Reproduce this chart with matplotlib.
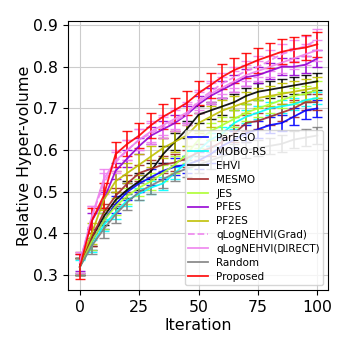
import numpy as np
import matplotlib
matplotlib.use('Agg')
import matplotlib.pyplot as plt

# iterations where the means / error bars were recorded
iters = np.arange(0, 101, 5)

methods = ['ParEGO', 'MOBO-RS', 'EHVI', 'MESMO', 'JES', 'PFES', 'PF2ES',
           'qLogNEHVI(Grad)', 'qLogNEHVI(DIRECT)', 'Random', 'Proposed']

parego = [0.32, 0.38, 0.43, 0.47, 0.50, 0.52, 0.535, 0.55, 0.56, 0.565, 0.575,
          0.59, 0.61, 0.625, 0.64, 0.65, 0.66, 0.665, 0.68, 0.695, 0.70]
mobors = [0.32, 0.37, 0.42, 0.45, 0.48, 0.495, 0.51, 0.52, 0.545, 0.57, 0.60,
          0.625, 0.64, 0.665, 0.68, 0.69, 0.70, 0.705, 0.71, 0.72, 0.725]
ehvi = [0.32, 0.39, 0.44, 0.48, 0.505, 0.525, 0.55, 0.59, 0.62, 0.65, 0.685,
        0.695, 0.705, 0.715, 0.73, 0.74, 0.745, 0.75, 0.755, 0.76, 0.765]
mesmo = [0.32, 0.39, 0.45, 0.49, 0.52, 0.545, 0.555, 0.565, 0.57, 0.58, 0.595,
         0.605, 0.62, 0.64, 0.665, 0.67, 0.68, 0.69, 0.70, 0.715, 0.715]
jes = [0.32, 0.38, 0.43, 0.465, 0.49, 0.51, 0.525, 0.545, 0.565, 0.59, 0.625,
       0.645, 0.66, 0.675, 0.69, 0.70, 0.71, 0.72, 0.73, 0.735, 0.745]
pfes = [0.33, 0.43, 0.48, 0.55, 0.58, 0.61, 0.635, 0.65, 0.665, 0.685, 0.71,
        0.73, 0.745, 0.76, 0.775, 0.78, 0.79, 0.80, 0.80, 0.805, 0.82]
pf2es = [0.33, 0.40, 0.48, 0.525, 0.545, 0.565, 0.585, 0.605, 0.62, 0.635, 0.665,
         0.68, 0.695, 0.705, 0.715, 0.725, 0.73, 0.735, 0.74, 0.745, 0.75]
qlog_grad = [0.33, 0.44, 0.52, 0.57, 0.60, 0.625, 0.64, 0.655, 0.67, 0.685, 0.72,
             0.74, 0.76, 0.775, 0.79, 0.80, 0.815, 0.83, 0.84, 0.85, 0.865]
qlog_direct = [0.33, 0.44, 0.53, 0.575, 0.60, 0.625, 0.645, 0.66, 0.675, 0.69, 0.715,
               0.735, 0.75, 0.765, 0.78, 0.79, 0.80, 0.81, 0.82, 0.83, 0.84]
rand = [0.32, 0.37, 0.41, 0.445, 0.475, 0.50, 0.515, 0.53, 0.545, 0.555, 0.565,
        0.575, 0.585, 0.595, 0.60, 0.605, 0.61, 0.615, 0.625, 0.63, 0.635]
proposed = [0.32, 0.43, 0.49, 0.59, 0.615, 0.635, 0.66, 0.68, 0.696, 0.713, 0.737,
            0.756, 0.776, 0.792, 0.804, 0.816, 0.826, 0.836, 0.842, 0.846, 0.854]

# half width of the error bars (roughly constant per method)
errs = [0.02, 0.015, 0.02, 0.02, 0.02, 0.02, 0.025, 0.025, 0.025, 0.02, 0.03]

colors = ['blue', 'cyan', 'black', 'brown', 'greenyellow', 'darkviolet', 'y',
          'violet', 'violet', 'gray', 'red']
styles = ['-', '-', '-', '-', '-', '-', '-', '--', '-', '-', '-']

means = [parego, mobors, ehvi, mesmo, jes, pfes, pf2es, qlog_grad, qlog_direct, rand, proposed]

fig = plt.figure(figsize=(3.49, 3.49), dpi=100)
ax = fig.add_axes([0.195, 0.169, 0.745, 0.771])

for name, m, e, c, ls in zip(methods, means, errs, colors, styles):
    ax.errorbar(iters, m, yerr=e, color=c, ls=ls, lw=1.3, elinewidth=1.2,
                capsize=3.5, label=name, alpha=0.9)

ax.set_xlim(-5, 104.5)
ax.set_ylim(0.264, 0.91)
ax.set_xticks([0, 25, 50, 75, 100])
ax.set_yticks([0.3, 0.4, 0.5, 0.6, 0.7, 0.8, 0.9])
ax.tick_params(labelsize=11.3)
ax.grid(True, color='#cccccc', lw=0.8)
ax.set_xlabel('Iteration', fontsize=11.4, labelpad=2)
ax.set_ylabel('Relative Hyper-volume', fontsize=11.4, labelpad=1)

# legend only with plain lines (no error bar glyphs)
handles, labels = ax.get_legend_handles_labels()
handles = [h[0] for h in handles]
ax.legend(handles, labels, loc='lower right', fontsize=7.5, framealpha=0.8,
          borderpad=0.3, handlelength=1.9, labelspacing=0.37)

fig.savefig('out.png', dpi=100)
